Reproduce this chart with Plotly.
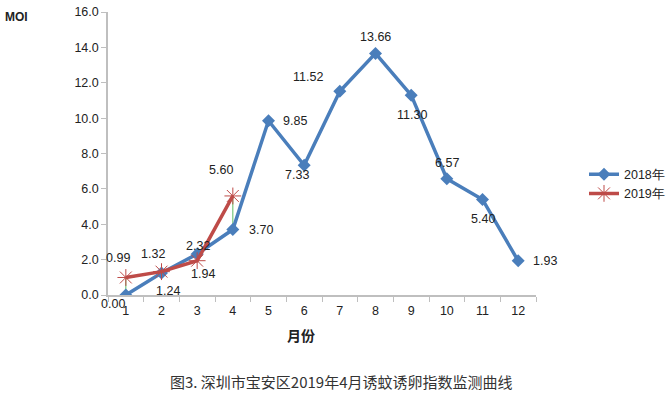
import plotly.graph_objects as go

months = ["1", "2", "3", "4", "5", "6", "7", "8", "9", "10", "11", "12"]
moi_2018 = [0.00, 1.24, 2.32, 3.70, 9.85, 7.33, 11.52, 13.66, 11.30, 6.57, 5.40, 1.93]
moi_2019 = [0.99, 1.32, 1.94, 5.60]
y_ticks = [0, 2, 4, 6, 8, 10, 12, 14, 16]

# label offsets (pixels) relative to each point
shift_2018 = [(-13, -9), (6, -18), (1, 8), (28, 0), (26, 0), (-7, -10),
              (-32, 14), (0, 16), (1, -20), (0, 16), (0, -20), (27, 0)]
shift_2019 = [(-8, 19), (-9, 18), (6, -13), (-12, 26)]

blue = "#4A7EBB"
red = "#BE4B48"
font = "Liberation Sans, Arial, sans-serif"

# plot area in screen px: left 108, top 12, w 428, h 283
L, T, W, H = 108, 12, 428, 283


def px(x):
    return (x - L) / W


def py(y):
    return (T + H - y) / H


fig = go.Figure()

# high-low drop lines between the two series
dx, dy = [], []
for m, a, b in zip(months, moi_2018, moi_2019):
    dx += [m, m, None]
    dy += [a, b, None]
fig.add_trace(go.Scatter(x=dx, y=dy, mode="lines", line=dict(color="#5DBB63", width=1),
                         showlegend=False, hoverinfo="skip"))

fig.add_trace(go.Scatter(
    x=months, y=moi_2018, name="2018年", mode="lines+markers",
    line=dict(color=blue, width=3.5), marker=dict(symbol="diamond", size=10, color=blue)))

fig.add_trace(go.Scatter(
    x=months[:len(moi_2019)], y=moi_2019, name="2019年", mode="lines+markers",
    line=dict(color=red, width=3.5),
    marker=dict(symbol="asterisk-open", size=14, color=red, line=dict(width=1, color=red))))

annotations = []
for vals, shifts in ((moi_2018, shift_2018), (moi_2019, shift_2019)):
    for i, (v, (sx, sy)) in enumerate(zip(vals, shifts)):
        annotations.append(dict(x=i, y=v, xref="x", yref="y", text=f"{v:.2f}",
                                showarrow=False, xshift=sx, yshift=sy,
                                xanchor="center", yanchor="middle",
                                font=dict(size=12.5, color="#222", family=font)))

annotations += [
    dict(text="<b>MOI</b>", x=px(16), y=py(17), xref="paper", yref="paper",
         xanchor="center", yanchor="middle", showarrow=False, font=dict(size=12)),
    dict(text="<b>月份</b>", x=px(301), y=py(335), xref="paper", yref="paper",
         xanchor="center", yanchor="middle", showarrow=False,
         font=dict(size=14, family="Noto Sans CJK SC")),
    dict(text="图3. 深圳市宝安区2019年4月诱蚊诱卵指数监测曲线", x=px(341), y=py(381),
         xref="paper", yref="paper", xanchor="center", yanchor="middle", showarrow=False,
         font=dict(size=15, family="Noto Sans CJK SC", color="#333")),
]

fig.update_layout(
    width=670, height=394,
    margin=dict(l=L, r=670 - (L + W), t=T, b=394 - (T + H)),
    paper_bgcolor="white", plot_bgcolor="white",
    font=dict(family=font, size=12, color="#222"),
    legend=dict(xref="container", yref="container", x=584 / 670, y=1 - 184 / 394,
                xanchor="left", yanchor="middle",
                bgcolor="rgba(0,0,0,0)", font=dict(size=12.5), tracegroupgap=2),
    xaxis=dict(type="category", categoryorder="array", categoryarray=months,
               range=[-0.5, 11.5], automargin=False, ticklabelstandoff=3,
               showline=True, linecolor="#BFBFBF", linewidth=1.5,
               ticks="outside", tickson="boundaries", ticklen=5, tickcolor="#BFBFBF",
               showgrid=False, zeroline=False, tickfont=dict(size=12.5)),
    yaxis=dict(range=[0, 16], tickvals=y_ticks, tickformat=".1f", automargin=False,
               ticklabeloverflow="allow",
               showline=True, linecolor="#BFBFBF", linewidth=1.5,
               ticks="outside", ticklen=5, tickcolor="#BFBFBF",
               showgrid=False, zeroline=False, tickfont=dict(size=12.5)),
    annotations=annotations,
)

fig.write_html("out.html", config={"displayModeBar": False},
               post_script="document.body.style.margin='0px';")
